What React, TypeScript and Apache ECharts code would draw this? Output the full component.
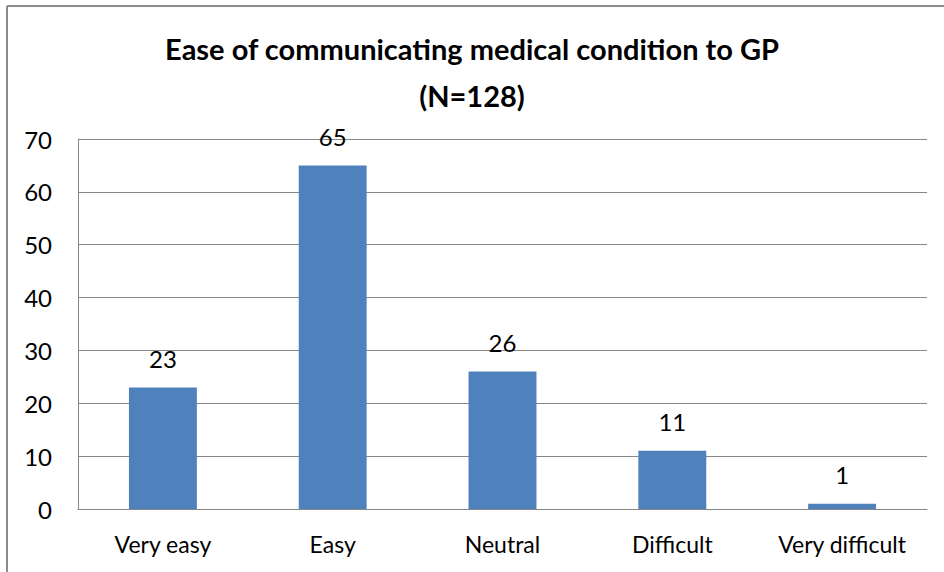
import React, { useEffect, useRef } from "react";
import * as echarts from "echarts";

const categories = ["Very easy", "Easy", "Neutral", "Difficult", "Very difficult"];
const values = [23, 65, 26, 11, 1];
const titleLines = ["Ease of communicating medical condition to GP", "(N=128)"];

export default function App() {
  const ref = useRef<HTMLDivElement>(null);
  useEffect(() => {
    if (!ref.current) return;
    const chart = echarts.init(ref.current, null, { renderer: "svg" });
    const font = "Lato, 'Open Sans', sans-serif";
    chart.setOption({
      animation: false,
      backgroundColor: "#ffffff",
      title: {
        text: titleLines.join("\n"),
        left: "center",
        top: 20,
        textStyle: {
          fontFamily: font,
          fontWeight: "bold",
          fontSize: 29,
          lineHeight: 47,
          color: "#000000",
        },
      },
      graphic: [
        {
          type: "line",
          shape: { x1: 7, y1: 6, x2: 944, y2: 6 },
          style: { stroke: "#8c8c8c", lineWidth: 2 },
        },
        {
          type: "line",
          shape: { x1: 7, y1: 6, x2: 7, y2: 572 },
          style: { stroke: "#8c8c8c", lineWidth: 2 },
        },
      ],
      grid: { left: 78, right: 17, top: 139, bottom: 63, containLabel: false },
      xAxis: {
        type: "category",
        data: categories,
        axisLine: { show: true, lineStyle: { color: "#868686", width: 1 } },
        axisTick: { show: false },
        axisLabel: {
          interval: 0,
          hideOverlap: false,
          fontFamily: font,
          fontSize: 23,
          color: "#000",
          margin: 23,
        },
      },
      yAxis: {
        type: "value",
        min: 0,
        max: 70,
        interval: 10,
        axisLine: { show: true, lineStyle: { color: "#868686", width: 1 } },
        axisTick: { show: false },
        axisLabel: { fontFamily: font, fontSize: 24, color: "#000", margin: 26 },
        splitLine: { show: true, lineStyle: { color: "#868686", width: 1 } },
      },
      series: [
        {
          type: "bar",
          data: values,
          barWidth: "40%",
          itemStyle: { color: "#4F81BD" },
          label: {
            show: true,
            position: "top",
            distance: 17,
            fontFamily: font,
            fontSize: 24,
            color: "#000",
          },
        },
      ],
    });
    return () => chart.dispose();
  }, []);
  return (
    <div
      ref={ref}
      style={{ position: "absolute", left: 0, top: 0, width: 944, height: 572 }}
    />
  );
}
